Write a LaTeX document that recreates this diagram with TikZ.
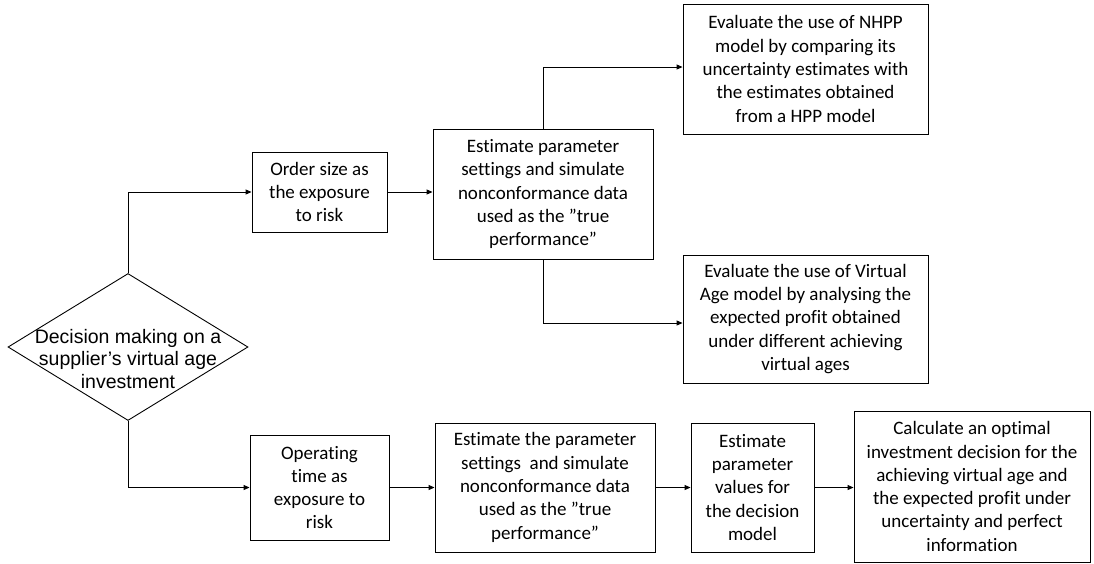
\documentclass[tikz,border=0pt]{standalone}
\usepackage{fontspec}
\setmainfont{Carlito}[Ligatures=NoCommon]
\newfontfamily\arialf{Liberation Sans}
\usetikzlibrary{shapes.geometric,arrows.meta}
\begin{document}
\begin{tikzpicture}[x=1pt,y=-1pt,
  box/.style={draw=black,line width=0.9pt,rectangle,inner sep=0pt,align=center,
     font=\fontsize{19}{23.3}\selectfont},
  conn/.style={draw=black,line width=0.9pt,-{Triangle[length=6pt,width=5pt]}}]
\useasboundingbox (0,0) rectangle (1094,563);
\node[draw=black,line width=0.9pt,shape=diamond,inner sep=0pt,minimum width=240pt,minimum height=147pt] (dec) at (128,347) {};
\node[align=center,inner sep=0pt,font=\arialf\fontsize{19.5}{22.5}\selectfont] (dect) at (128,359) {Decision making on a\\supplier’s virtual age\\investment};
\node[box,minimum width=135pt,minimum height=80pt] (order) at (319.5,192) {Order size as\\the exposure\\to risk};
\node[box,minimum width=220pt,minimum height=130pt] (est1) at (543,194) {Estimate parameter\\settings and simulate\\nonconformance data\\used as the ”true\\performance”};
\node[box,minimum width=245pt,minimum height=130pt] (nhpp) at (805.5,69) {Evaluate the use of NHPP\\model by comparing its\\uncertainty estimates with\\the estimates obtained\\from a HPP model};
\node[box,minimum width=245pt,minimum height=128pt] (va) at (805.5,319) {Evaluate the use of Virtual\\Age model by analysing the\\expected profit obtained\\under different achieving\\virtual ages};
\node[box,minimum width=139pt,minimum height=105pt] (oper) at (319.5,487.5) {Operating\\time as\\exposure to\\risk};
\node[box,minimum width=220pt,minimum height=129pt] (est2) at (545,487.5) {Estimate the parameter\\settings\ \ and simulate\\nonconformance data\\used as the ”true\\performance”};
\node[box,minimum width=123pt,minimum height=129pt] (param) at (752.5,487.5) {Estimate\\parameter\\values for\\the decision\\model};
\node[box,minimum width=236pt,minimum height=151pt] (calc) at (972,486.5) {Calculate an optimal\\investment decision for the\\achieving virtual age and\\the expected profit under\\uncertainty and perfect\\information};
\draw[conn] (dec.north) |- (order.west);
\draw[conn] (dec.south) |- (oper.west);
\draw[conn] (order.east) -- (est1.west |- order.east);
\draw[conn] (est1.north) |- ([yshift=2pt]nhpp.west);
\draw[conn] (est1.south) |- ([yshift=-4pt]va.west);
\draw[conn] (oper.east) -- (est2.west |- oper.east);
\draw[conn] (est2.east) -- (param.west |- est2.east);
\draw[conn] (param.east) -- (calc.west |- param.east);
\end{tikzpicture}
\end{document}
